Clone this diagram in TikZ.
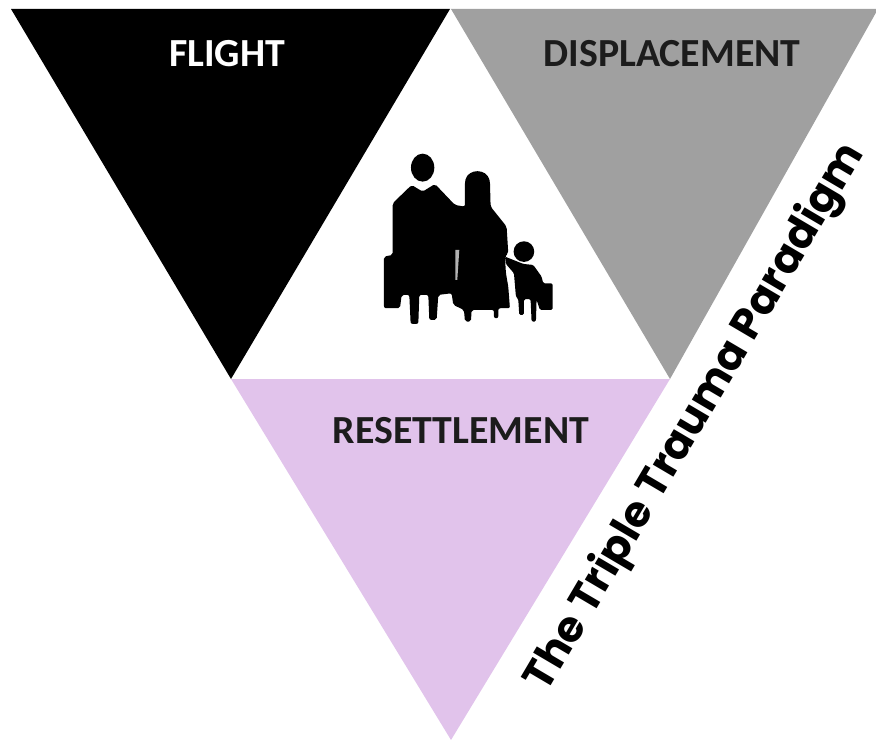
\documentclass[tikz,border=0pt]{standalone}
\usepackage{fontspec}
\setmainfont{Carlito}
\newfontfamily\titlefont{Poppins}[BoldFont={Poppins Bold}]
\definecolor{flightblack}{HTML}{000000}
\definecolor{displgray}{HTML}{A0A0A0}
\definecolor{resettlepink}{HTML}{E1C3EB}
\definecolor{labeldark}{HTML}{1C1C1C}
\tikzset{
  phase/.style={font=\fontsize{34}{34}\selectfont\bfseries,text=labeldark,inner sep=0pt},
  paradigm/.style={font=\titlefont\fontsize{36.5}{36.5}\selectfont\bfseries,text=black,inner sep=0pt,rotate=59.5}
}
\begin{document}
\begin{tikzpicture}[x=.03cm,y=-.03cm]
  \useasboundingbox (0,0) rectangle (876,740);
  % Draw triangles
  \fill[flightblack]  (11,9)   -- (450,9)  -- (231,379) -- cycle;
  \fill[displgray]    (451,9)  -- (878,9)  -- (670,379) -- cycle;
  \fill[resettlepink] (231,379) -- (670,379) -- (451,740) -- cycle;

  % Draw labels
  \node[phase,text=white] (flight) at (227,54) {FLIGHT};
  \node[phase] (displacement) at (672,54) {DISPLACEMENT};
  \node[phase] (resettlement) at (461,431) {RESETTLEMENT};
  \node[paradigm] (title) at (696,418) {The Triple Trauma Paradigm};

  % Draw family
  \begin{scope}[shift={(370,140)},x=.01cm,y=-.01cm]
    \fill[black] (158,83) ellipse (35 and 42);
    \fill[black,rounded corners=.6mm] (68,190) -- (125,135) -- (158,155) -- (195,132) -- (255,195)
      -- (285,200) -- (285,125) .. controls (295,85) and (350,85) .. (360,125)
      -- (362,200) -- (410,260) -- (415,340) -- (405,350) -- (408,400) -- (415,440)
      -- (420,505) -- (385,505) -- (385,535) -- (372,535) -- (372,510)
      -- (305,510) -- (303,545) -- (285,545) -- (282,510) -- (250,495)
      -- (245,460) -- (205,465) -- (200,540) -- (178,540) -- (175,465)
      -- (148,465) -- (145,552) -- (122,552) -- (118,465) -- (95,465)
      -- (90,505) -- (42,505) -- (42,350) -- (68,345) -- cycle;
    \fill[gray!60] (256,330) -- (268,330) -- (262,420) -- (256,420) -- cycle;
    \fill[black] (462,335) circle (31);
    \fill[black,rounded corners=.4mm] (405,350) -- (460,372) -- (490,375) -- (515,410) -- (520,430)
      -- (548,430) -- (548,510) -- (510,510) -- (500,480) -- (498,545)
      -- (485,545) -- (482,478) -- (462,478) -- (462,525) -- (448,525)
      -- (445,478) -- (438,470) -- (432,400) -- (408,372) -- cycle;
  \end{scope}
\end{tikzpicture}
\end{document}
